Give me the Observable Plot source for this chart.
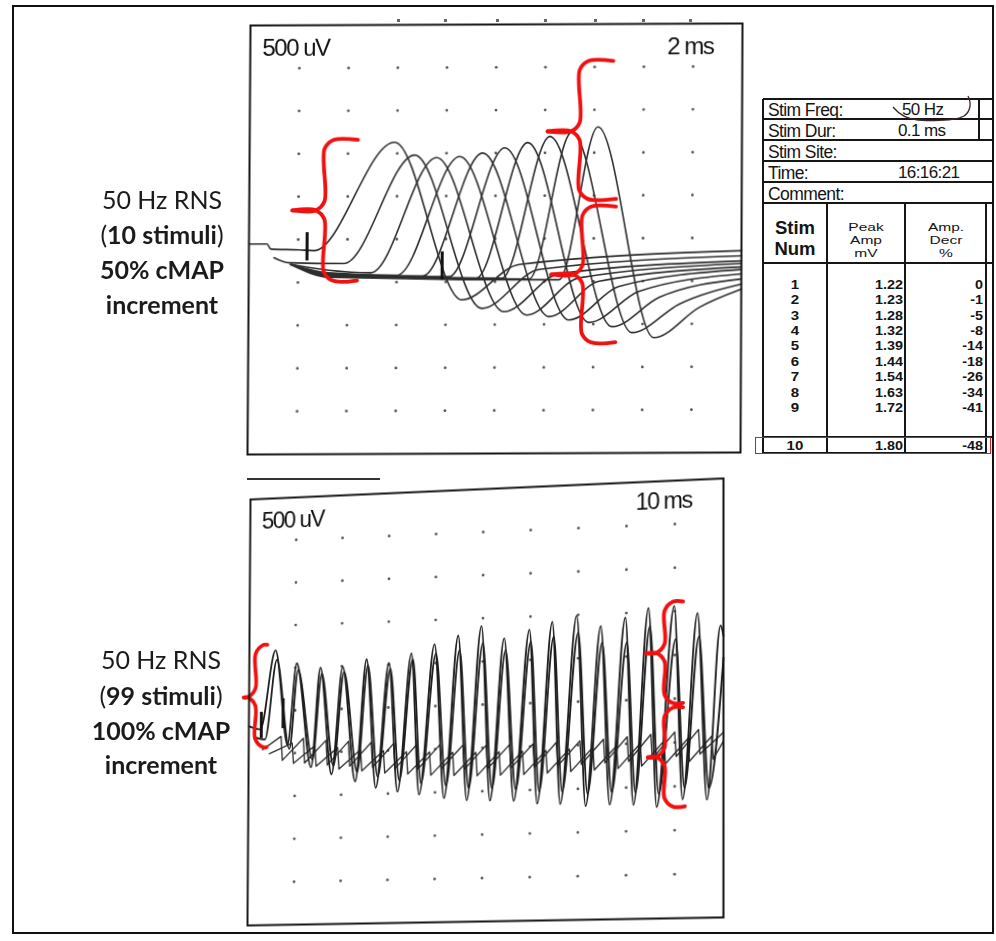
<!DOCTYPE html>
<html>
<head>
<meta charset="utf-8">
<script src="https://cdn.jsdelivr.net/npm/d3@7"></script>
<script src="https://cdn.jsdelivr.net/npm/@observablehq/plot@0.6"></script>
<style>
html,body{margin:0;padding:0;background:#fff;}
#page{position:relative;width:996px;height:941px;overflow:hidden;background:#fff;}
.abs{position:absolute;white-space:nowrap;}
.lbl{font-family:Lato,"Open Sans",sans-serif;color:#1b1b1b;}
.tbl{font-family:"Liberation Sans",Arial,sans-serif;color:#141414;}
</style>
</head>
<body>
<div id="page"></div>
<script>
// ---------------- data ----------------
const stimNum = [1, 2, 3, 4, 5, 6, 7, 8, 9, 10];
const peakAmp = ["1.22", "1.23", "1.28", "1.32", "1.39", "1.44", "1.54", "1.63", "1.72", "1.80"];
const ampDecr = ["0", "-1", "-5", "-8", "-14", "-18", "-26", "-34", "-41", "-48"];
const infoLabels = ["Stim Freq:", "Stim Dur:", "Stim Site:", "Time:", "Comment:"];
const infoValues = ["50 Hz", "0.1 ms", "", "16:16:21", ""];
const headStim = ["Stim", "Num"];
const headPeak = ["Peak", "Amp", "mV"];
const headDecr = ["Amp.", "Decr", "%"];

const labelTop = ["50 Hz RNS", "(<b>10 stimuli</b>)", "<b>50% cMAP</b>", "<b>increment</b>"];
const labelBottom = ["50 Hz RNS", "(<b>99 stimuli</b>)", "<b>100% cMAP</b>", "<b>increment</b>"];

// grid (ms, mV)
const gridTopX = [2, 4, 6, 8, 10, 12, 14, 16, 18];
const gridBotX = [10, 20, 30, 40, 50, 60, 70, 80, 90];
const gridY = [-2, -1.5, -1, -0.5, 0, 0.5, 1, 1.5, 2];

// top panel: 10 superimposed responses (time ms, mV)
const topTraceT = [
  [0, 0.73, 0.89, 2.03, 2.64, 5.89, 8.66, 10.98, 20],
  [1.02, 1.63, 3.86, 6.71, 9.47, 11.79, 20],
  [1.71, 3.25, 4.96, 7.60, 10.37, 12.60, 20],
  [1.71, 3.25, 6.02, 8.54, 11.30, 13.41, 20],
  [1.71, 3.25, 7.07, 9.47, 12.20, 14.23, 20],
  [1.71, 3.25, 8.13, 10.37, 13.01, 15.04, 20],
  [1.71, 3.25, 9.23, 11.30, 13.82, 15.85, 20],
  [1.71, 3.25, 10.28, 12.20, 14.76, 16.67, 20],
  [1.71, 3.25, 11.38, 13.09, 15.57, 17.48, 20],
  [1.71, 3.25, 12.60, 14.15, 16.46, 18.29, 20]
];
const topTraceV = [
  [-0.05, -0.05, -0.11, -0.12, -0.13, 1.13, -0.71, -0.30, -0.15],
  [-0.21, -0.27, -0.28, 0.98, -0.81, -0.36, -0.21],
  [-0.29, -0.36, -0.39, 0.95, -0.85, -0.41, -0.27],
  [-0.29, -0.39, -0.42, 0.96, -0.89, -0.46, -0.30],
  [-0.29, -0.40, -0.43, 1.00, -0.91, -0.50, -0.34],
  [-0.29, -0.41, -0.44, 1.06, -0.95, -0.56, -0.37],
  [-0.29, -0.42, -0.46, 1.12, -0.98, -0.62, -0.42],
  [-0.29, -0.42, -0.46, 1.19, -1.03, -0.69, -0.48],
  [-0.29, -0.43, -0.47, 1.24, -1.10, -0.77, -0.54],
  [-0.29, -0.44, -0.48, 1.30, -1.16, -0.81, -0.60]
];
const topMarkX = [2.36, 7.85];
const topMarkY1 = [0.08, -0.15];
const topMarkY2 = [-0.25, -0.48];

// bottom panel: 99-stimulus train (time ms, mV)
const bStartT = [0, 2.5];
const bStartV = [-0.17, -0.21];
const aPeakT = [5.7, 10.3, 15.4, 20.2, 25.3, 30.1, 34.9, 39.8, 44.8, 49.7, 54.5, 59.8, 64.6, 69.7, 74.7, 79.8, 84.6, 89.9, 94.7, 99.4];
const aPeakV = [0.71, 0.55, 0.49, 0.49, 0.57, 0.52, 0.62, 0.72, 0.81, 0.91, 0.76, 0.85, 0.93, 0.99, 0.86, 0.95, 1.05, 1.06, 0.97, 0.82];
const aTroughT = [8.4, 13.5, 17.9, 23.0, 27.4, 32.0, 36.6, 41.9, 46.7, 51.6, 56.6, 61.5, 66.3, 71.6, 76.6, 81.5, 86.3, 91.6, 96.6];
const aTroughV = [-0.40, -0.67, -0.76, -0.85, -0.93, -0.98, -1.02, -1.07, -1.10, -1.11, -1.12, -1.16, -1.17, -1.20, -1.19, -1.20, -1.23, -1.15, -1.16];
const aEnd = [100, 0.7];

const bInStartT = [1.2, 3.5];
const bInStartV = [-0.30, -0.33];
const bPeakT = [6.0, 10.6, 15.7, 20.5, 25.6, 30.4, 35.2, 40.1, 45.1, 50.0, 54.8, 60.1, 64.9, 70.0, 75.0, 80.1, 84.9, 90.2, 95.0];
const bPeakV = [0.60, 0.47, 0.42, 0.43, 0.50, 0.45, 0.55, 0.61, 0.64, 0.71, 0.62, 0.71, 0.76, 0.79, 0.67, 0.66, 0.84, 0.68, 0.70];
const bTroughT = [8.8, 13.8, 18.3, 23.4, 27.8, 32.4, 37.0, 42.3, 47.1, 52.0, 57.0, 61.9, 66.7, 72.0, 77.0, 81.9, 86.7, 92.0, 97.0];
const bTroughV = [-0.45, -0.58, -0.66, -0.74, -0.80, -0.85, -0.89, -0.93, -0.96, -0.97, -0.99, -1.02, -1.03, -1.06, -1.05, -1.06, -1.08, -1.02, -1.03];
const bEnd = [100, 0.45];

const sawCT = [3.0, 7.0, 7.3, 11.8, 12.1, 16.7, 17.0, 21.5, 21.8, 26.4, 26.7, 31.2, 31.5, 36.1, 36.4, 41.0, 41.3, 45.9, 46.2, 50.8, 51.1, 55.7, 56.0, 60.6, 60.9, 65.5, 65.8, 70.4, 70.7, 75.3, 75.6, 80.2, 80.5, 85.1, 85.4, 90.0, 90.3, 94.9, 95.2, 100];
const sawCV = [-0.45, -0.30, -0.58, -0.33, -0.62, -0.36, -0.65, -0.38, -0.67, -0.40, -0.69, -0.42, -0.71, -0.44, -0.72, -0.45, -0.73, -0.46, -0.74, -0.47, -0.74, -0.47, -0.74, -0.47, -0.74, -0.46, -0.73, -0.45, -0.72, -0.44, -0.71, -0.42, -0.70, -0.40, -0.68, -0.38, -0.66, -0.36, -0.64, -0.40];
const sawDT = [4.5, 9.4, 9.7, 14.3, 14.6, 19.2, 19.5, 24.1, 24.4, 29.0, 29.3, 33.9, 34.2, 38.8, 39.1, 43.7, 44.0, 48.6, 48.9, 53.5, 53.8, 58.4, 58.7, 63.3, 63.6, 68.2, 68.5, 73.1, 73.4, 78.0, 78.3, 82.9, 83.2, 87.8, 88.1, 92.7, 93.0, 97.6, 97.9, 100];
const sawDV = [-0.50, -0.38, -0.62, -0.42, -0.66, -0.45, -0.70, -0.48, -0.73, -0.50, -0.76, -0.52, -0.78, -0.53, -0.80, -0.54, -0.81, -0.55, -0.82, -0.55, -0.82, -0.55, -0.82, -0.55, -0.81, -0.54, -0.80, -0.53, -0.79, -0.52, -0.78, -0.50, -0.76, -0.48, -0.74, -0.46, -0.72, -0.44, -0.70, -0.50];
const botMarkX = [2.7, 7.4];
const botMarkY1 = [-0.01, 0.14];
const botMarkY2 = [-0.32, -0.21];

// annotation braces (ms, mV)
const topBraces = [
  {xv: 3.05, tip: 1.75, endTop: 4.4, endBot: 4.4, top: 1.16, mid: 0.34, bot: -0.48},
  {xv: 13.4, tip: 12.1, endTop: 14.76, endBot: 14.9, top: 2.07, mid: 1.25, bot: 0.46},
  {xv: 13.54, tip: 12.28, endTop: 14.9, endBot: 14.9, top: 0.37, mid: -0.42, bot: -1.21}
];
const botBraces = [
  {xv: 1.37, tip: -1.16, endTop: 3.9, endBot: 3.9, top: 0.78, mid: 0.17, bot: -0.42},
  {xv: 87.9, tip: 84.1, endTop: 91.7, endBot: 91.7, top: 1.11, mid: 0.53, bot: -0.05},
  {xv: 87.9, tip: 84.5, endTop: 91.7, endBot: 92.1, top: -0.10, mid: -0.66, bot: -1.23}
];

// ---------------- helpers ----------------
const page = document.getElementById("page");
function rect(x, y, w, h, color) {
  const d = document.createElement("div");
  d.style.cssText = `position:absolute;left:${x}px;top:${y}px;width:${w}px;height:${h}px;background:${color};`;
  page.appendChild(d);
  return d;
}
// font metrics: [ascent, descent] in em
const METRICS = {lbl: [0.987, 0.213], tbl: [0.905, 0.212]};
// places a (possibly multi-line) text block so that its first baseline sits at `base`
function textAt(x, base, html, o) {
  const d = document.createElement("div");
  d.className = "abs " + o.cls;
  const s = o.size, lh = o.lh || s;
  const [A, D] = METRICS[o.cls];
  d.style.fontSize = s + "px";
  d.style.lineHeight = lh + "px";
  d.style.top = (base - ((lh - (A + D) * s) / 2 + A * s)) + "px";
  d.style.fontWeight = o.weight || "normal";
  if (o.ls) d.style.letterSpacing = o.ls + "px";
  if (o.sx) { d.style.transform = `scaleX(${o.sx})`; }
  const w = o.w || 120;
  if (o.align === "center") { d.style.left = (x - w / 2) + "px"; d.style.width = w + "px"; d.style.textAlign = "center"; d.style.transformOrigin = "50% 0"; }
  else if (o.align === "right") { d.style.left = (x - w) + "px"; d.style.width = w + "px"; d.style.textAlign = "right"; d.style.transformOrigin = "100% 0"; }
  else { d.style.left = x + "px"; d.style.transformOrigin = "0 0"; }
  d.innerHTML = html;
  page.appendChild(d);
  return d;
}
function quadMatrix(W, H, m, q) {
  const [[x0, y0], [x1, y1], [x2, y2], [x3, y3]] = q;
  const dx1 = x1 - x2, dx2 = x3 - x2, dx3 = x0 - x1 + x2 - x3;
  const dy1 = y1 - y2, dy2 = y3 - y2, dy3 = y0 - y1 + y2 - y3;
  const den = dx1 * dy2 - dx2 * dy1;
  const g = (dx3 * dy2 - dx2 * dy3) / den, h = (dx1 * dy3 - dx3 * dy1) / den;
  const a = x1 - x0 + g * x1, b = x3 - x0 + h * x3, c = x0;
  const d = y1 - y0 + g * y1, e = y3 - y0 + h * y3, f = y0;
  return `matrix3d(${a / W},${d / W},0,${g / W},${b / H},${e / H},0,${h / H},0,0,1,0,${c},${f},0,1) translate(${-m}px,${-m}px)`;
}
function braceRows(list, rx, ry) {
  const rows = [];
  list.forEach((b, i) => {
    [[b.endTop, b.top], [b.xv + rx, b.top], [b.xv, b.top - ry], [b.xv, b.mid + ry], [b.xv - rx, b.mid], [b.tip, b.mid]]
      .forEach(([x, y]) => rows.push({seg: i + "a", x, y}));
    [[b.tip, b.mid], [b.xv - rx, b.mid], [b.xv, b.mid - ry], [b.xv, b.bot + ry], [b.xv + rx, b.bot], [b.endBot, b.bot]]
      .forEach(([x, y]) => rows.push({seg: i + "b", x, y}));
  });
  return rows;
}
function spikeRows(id, st, sv, pt, pv, tt, tv, end) {
  const rows = st.map((t, i) => ({id, t, v: sv[i]}));
  pt.forEach((t, i) => {
    rows.push({id, t, v: pv[i]});
    if (i < tt.length) rows.push({id, t: tt[i], v: tv[i]});
  });
  rows.push({id, t: end[0], v: end[1]});
  return rows;
}
function place(svg, W, H, m, quad) {
  svg.style.position = "absolute";
  svg.style.left = "0px";
  svg.style.top = "0px";
  svg.style.maxWidth = "none";
  svg.style.width = (W + 2 * m) + "px";
  svg.style.height = (H + 2 * m) + "px";
  svg.style.background = "transparent";
  svg.style.overflow = "visible";
  svg.style.letterSpacing = "-1.5px";
  svg.style.transformOrigin = "0 0";
  svg.style.transform = quadMatrix(W, H, m, quad);
  page.appendChild(svg);
}
const panelFont = "Liberation Sans, Arial, sans-serif";

// ---------------- top panel ----------------
const M = 10;
const topW = 491, topH = 428;
const topRows = topTraceT.flatMap((ts, k) => ts.map((t, i) => ({k, t, v: topTraceV[k][i]})));
const topDots = gridTopX.flatMap(x => gridY.map(y => ({x, y})));
const topMarks = topMarkX.map((x, i) => ({x, y1: topMarkY1[i], y2: topMarkY2[i]}));

const topSvg = Plot.plot({
  width: topW + 2 * M, height: topH + 2 * M, margin: M,
  x: {domain: [0, 20], axis: null},
  y: {domain: [-2.5, 2.5], axis: null},
  marks: [
    Plot.dot(topDots, {x: "x", y: "y", r: 1.4, fill: "#555", stroke: "none"}),
    Plot.line(topRows, {x: "t", y: "v", z: "k", curve: "monotone-x", stroke: "#2e2e2e", strokeWidth: 1.6}),
    Plot.ruleX(topMarks, {x: "x", y1: "y1", y2: "y2", stroke: "#111", strokeWidth: 3}),
    Plot.line(braceRows(topBraces, 0.35, 0.1), {x: "x", y: "y", z: "seg", curve: "catmull-rom", stroke: "#f01010", strokeWidth: 3.8}),
    Plot.frame({stroke: "#151515", strokeWidth: 2}),
    Plot.text([0], {frameAnchor: "top-left", text: () => "500 uV", dx: 12, dy: 13, lineAnchor: "top", textAnchor: "start", fontSize: 24, fontFamily: panelFont, fill: "#111"}),
    Plot.text([0], {frameAnchor: "top-right", text: () => "2 ms", dx: -29, dy: 13, lineAnchor: "top", textAnchor: "end", fontSize: 24, fontFamily: panelFont, fill: "#111"})
  ]
});
place(topSvg, topW, topH, M, [[250, 25], [742, 23], [740, 452], [247, 454]]);

// ---------------- bottom panel ----------------
const botW = 475, botH = 432;
const botRows = [
  ...spikeRows("A", bStartT, bStartV, aPeakT, aPeakV, aTroughT, aTroughV, aEnd),
  ...spikeRows("B", bInStartT, bInStartV, bPeakT, bPeakV, bTroughT, bTroughV, bEnd)
];
const sawRows = [
  ...sawCT.map((t, i) => ({id: "C", t, v: sawCV[i]})),
  ...sawDT.map((t, i) => ({id: "D", t, v: sawDV[i]}))
];
const botDots = gridBotX.flatMap(x => gridY.map(y => ({x, y})));
const botMarks = botMarkX.map((x, i) => ({x, y1: botMarkY1[i], y2: botMarkY2[i]}));

const botSvg = Plot.plot({
  width: botW + 2 * M, height: botH + 2 * M, margin: M,
  x: {domain: [0, 100], axis: null},
  y: {domain: [-2.5, 2.5], axis: null},
  marks: [
    Plot.dot(botDots, {x: "x", y: "y", r: 1.4, fill: "#555", stroke: "none"}),
    Plot.line(sawRows, {x: "t", y: "v", z: "id", stroke: "#2c2c2c", strokeWidth: 1.35}),
    Plot.line(botRows, {x: "t", y: "v", z: "id", curve: "monotone-x", stroke: "#1c1c1c", strokeWidth: 1.8}),
    Plot.ruleX(botMarks, {x: "x", y1: "y1", y2: "y2", stroke: "#111", strokeWidth: 3}),
    Plot.line(braceRows(botBraces, 1.7, 0.1), {x: "x", y: "y", z: "seg", curve: "catmull-rom", stroke: "#f01010", strokeWidth: 3.8}),
    Plot.frame({stroke: "#151515", strokeWidth: 2}),
    Plot.text([0], {frameAnchor: "top-left", text: () => "500 uV", dx: 12, dy: 14, lineAnchor: "top", textAnchor: "start", fontSize: 23, fontFamily: panelFont, fill: "#111"}),
    Plot.text([0], {frameAnchor: "top-right", text: () => "10 ms", dx: -31, dy: 11, lineAnchor: "top", textAnchor: "end", fontSize: 23, fontFamily: panelFont, fill: "#111"})
  ]
});
place(botSvg, botW, botH, M, [[250, 499], [723, 478], [723, 917], [247, 925]]);

// scan remnants above panels
rect(247, 478, 133, 2, "#333");
[398, 445, 497, 545, 595, 643, 690].forEach(x => rect(x - 1.5, 19, 3, 3, "#666"));

// ---------------- left labels ----------------
const lblOpt = {cls: "lbl", size: 25, lh: 30, align: "center", w: 220};
[209, 244, 279, 314].forEach((b, i) => textAt(162, b, labelTop[i], lblOpt));
[669, 705, 740, 774].forEach((b, i) => textAt(161, b, labelBottom[i], lblOpt));

// ---------------- table ----------------
const INK = "#161616";
const tL = 763;
[99, 119, 140, 161, 182, 203, 263, 437].forEach(y => rect(tL, y - 0.75, 992 - tL, 1.5, INK));
rect(tL, 453 - 0.75, 987 - tL, 1.5, INK);
rect(tL - 0.75, 99, 1.5, 354, INK);
[827, 905, 986].forEach(x => rect(x - 0.75, 203, 1.5, 250, INK));
rect(979 - 0.75, 99, 1.5, 41, INK);

const infoBase = [116, 137, 158, 179, 200];
infoLabels.forEach((s, i) => textAt(768, infoBase[i], s, {cls: "tbl", size: 17.5, lh: 18, ls: -0.6}));
infoValues.forEach((s, i) => { if (s) textAt(i === 0 ? 902 : 898, infoBase[i], s, {cls: "tbl", size: 17, lh: 18, ls: -0.6}); });

headStim.forEach((s, i) => textAt(795, 234 + i * 21, s, {cls: "tbl", size: 18.5, lh: 20, weight: "bold", align: "center", w: 62}));
headPeak.forEach((s, i) => textAt(866, 231 + i * 13, s, {cls: "tbl", size: 11.5, lh: 12.5, sx: 1.35, align: "center", w: 50}));
headDecr.forEach((s, i) => textAt(946, 231 + i * 13, s, {cls: "tbl", size: 11.5, lh: 12.5, sx: 1.35, align: "center", w: 50}));

// data rows
const rowOpt = {cls: "tbl", size: 13.7, lh: 15, weight: "bold"};
stimNum.forEach((n, i) => {
  const base = i < 9 ? 289 + i * 15.4 : 450;
  textAt(795, base, String(n), {...rowOpt, sx: 1.1, align: "center", w: 40});
  textAt(903, base, peakAmp[i], {...rowOpt, sx: 1.05, align: "right", w: 60});
  textAt(983, base, ampDecr[i], {...rowOpt, sx: 1.05, align: "right", w: 60});
});

// red highlight around row 10
const rb = document.createElement("div");
rb.style.cssText = "position:absolute;left:755px;top:437px;width:236px;height:17px;border:1.7px solid #e01818;box-sizing:border-box;";
page.appendChild(rb);

// hand-drawn pen mark around "50 Hz"
const ns = "http://www.w3.org/2000/svg";
const pen = document.createElementNS(ns, "svg");
pen.setAttribute("width", 996); pen.setAttribute("height", 941);
pen.style.cssText = "position:absolute;left:0;top:0;pointer-events:none;";
const p = document.createElementNS(ns, "path");
p.setAttribute("d", "M893,107 C898,113 905,119 918,120 C935,121 955,121 964,116 C970,112 972,104 968,96");
p.setAttribute("fill", "none"); p.setAttribute("stroke", "#3b2626"); p.setAttribute("stroke-width", "1.3");
pen.appendChild(p);
page.appendChild(pen);

// outer frame
const fr = document.createElement("div");
fr.style.cssText = "position:absolute;left:12px;top:5px;width:982px;height:929px;border:2px solid #111;box-sizing:border-box;";
page.appendChild(fr);
</script>
</body>
</html>
